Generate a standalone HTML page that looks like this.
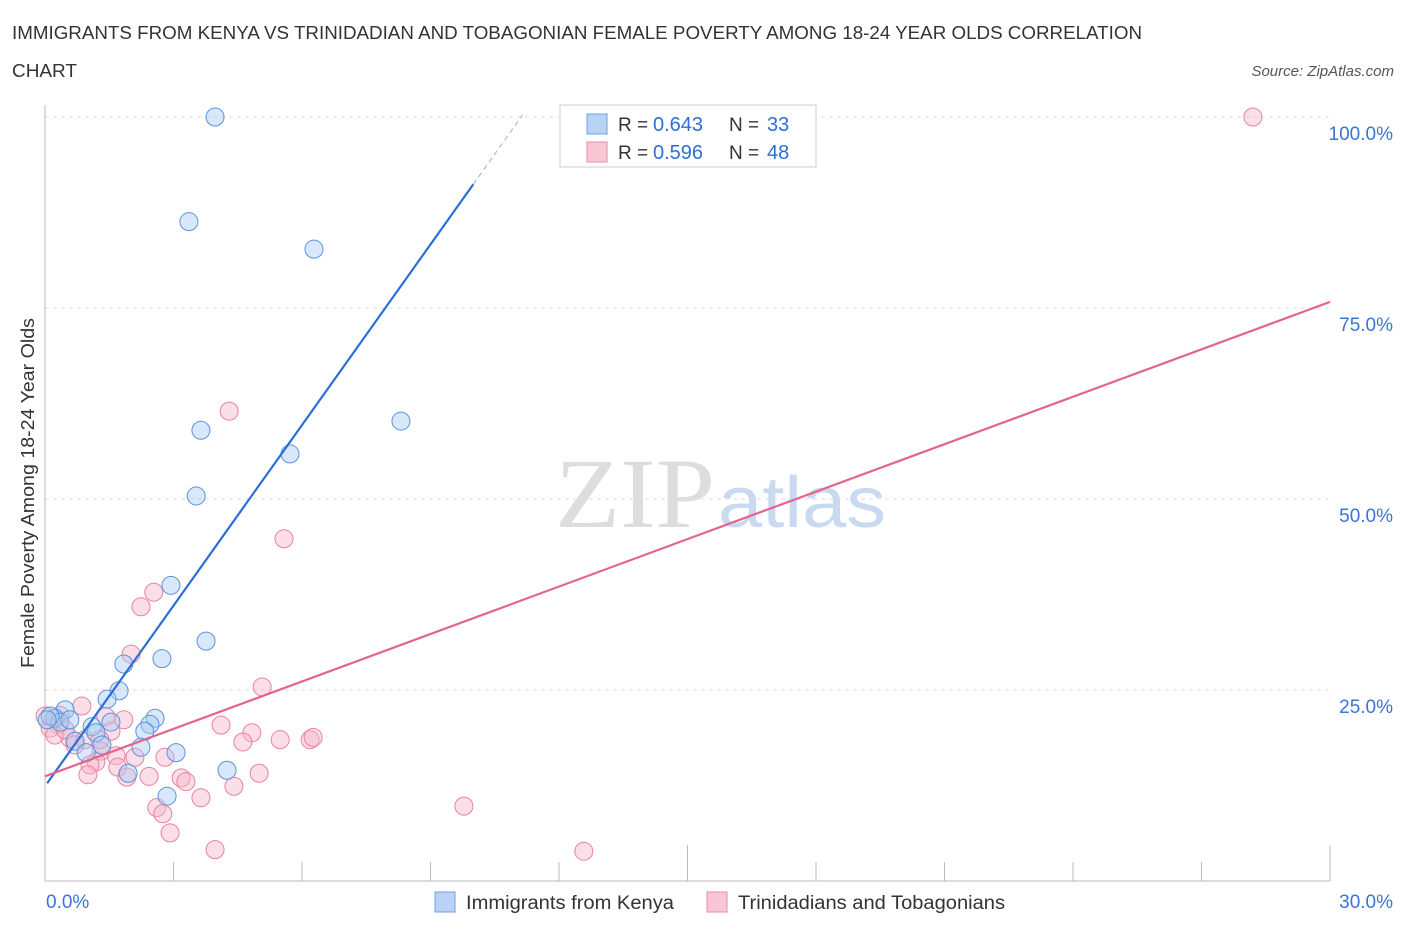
<!DOCTYPE html>
<html><head><meta charset="utf-8"><style>
body{margin:0;background:#fff;font-family:"Liberation Sans",sans-serif;}
#wrap{position:relative;width:1406px;height:930px;overflow:hidden}
</style></head><body>
<div id="wrap">
<svg id="svg" width="1406" height="930" xmlns="http://www.w3.org/2000/svg">
<text x="12" y="39" font-size="18" fill="#333" textLength="1130" lengthAdjust="spacingAndGlyphs">IMMIGRANTS FROM KENYA VS TRINIDADIAN AND TOBAGONIAN FEMALE POVERTY AMONG 18-24 YEAR OLDS CORRELATION</text>
<text x="12" y="77" font-size="18" fill="#333" textLength="65" lengthAdjust="spacingAndGlyphs">CHART</text>
<text x="1394" y="76" font-size="15" fill="#555" font-style="italic" text-anchor="end">Source: ZipAtlas.com</text>
<text x="555" y="527" font-size="100" fill="#ddd" font-family="Liberation Serif" textLength="160" lengthAdjust="spacingAndGlyphs">ZIP</text>
<text x="718" y="527" font-size="72" fill="#c9daf0" textLength="168" lengthAdjust="spacingAndGlyphs">atlas</text>
<text transform="translate(34,493) rotate(-90)" font-size="18" fill="#333" text-anchor="middle" textLength="350" lengthAdjust="spacingAndGlyphs">Female Poverty Among 18-24 Year Olds</text>
<g id="grid"></g><g id="axes"></g><g id="pts"></g><g id="lines"></g>
<g>
<rect x="560" y="105" width="256" height="62" fill="#fff" stroke="#ccc"/>
<rect x="587" y="114" width="20" height="20" fill="#b9d3f5" stroke="#6fa0e0"/>
<rect x="587" y="142" width="20" height="20" fill="#f9c6d5" stroke="#ea8aab"/>
<text x="618" y="131" font-size="19" fill="#333">R =</text>
<text x="653" y="131" font-size="20" fill="#2e6fd6">0.643</text>
<text x="729" y="131" font-size="19" fill="#333">N =</text>
<text x="767" y="131" font-size="20" fill="#2e6fd6">33</text>
<text x="618" y="159" font-size="19" fill="#333">R =</text>
<text x="653" y="159" font-size="20" fill="#2e6fd6">0.596</text>
<text x="729" y="159" font-size="19" fill="#333">N =</text>
<text x="767" y="159" font-size="20" fill="#2e6fd6">48</text>
</g>
<g>
<rect x="435" y="892" width="20" height="20" fill="#b9d3f5" stroke="#6fa0e0"/>
<text x="466" y="909" font-size="19" fill="#333" textLength="208" lengthAdjust="spacingAndGlyphs">Immigrants from Kenya</text>
<rect x="707" y="892" width="20" height="20" fill="#f9c6d5" stroke="#ea8aab"/>
<text x="738" y="909" font-size="19" fill="#333" textLength="267" lengthAdjust="spacingAndGlyphs">Trinidadians and Tobagonians</text>
</g>
</svg>
</div>
<script>
const kenyaX=[3.97,3.36,6.28,8.31,3.64,5.72,3.53,2.94,3.76,2.73,1.84,1.73,1.45,1.54,2.57,2.45,2.33,1.10,1.19,0.47,0.23,0.35,0.12,0.70,1.33,0.96,2.24,3.06,1.94,4.25,2.85,0.05,0.58];
const kenyaY=[100,86.3,82.7,60.2,59.0,55.9,50.4,38.7,31.4,29.1,28.4,24.9,23.8,20.8,21.3,20.5,19.6,20.2,19.4,22.4,21.3,20.8,21.6,18.3,17.8,16.8,17.5,16.8,14.1,14.5,11.1,21.1,21.1];
const trinX=[28.2,4.30,5.58,2.24,2.54,2.01,5.07,0.86,1.42,1.84,1.54,4.11,4.83,5.49,6.19,6.26,4.62,0.58,0.30,0.12,0.0,0.70,1.31,1.66,2.10,2.80,1.19,1.05,1.00,1.70,1.91,2.43,3.18,3.29,5.00,4.41,3.64,2.61,2.75,2.92,3.97,9.78,12.58,0.35,0.93,1.28,0.23,0.47];
const trinY=[100,61.5,44.8,35.9,37.8,29.7,25.4,22.9,21.5,21.1,19.6,20.4,19.4,18.5,18.5,18.8,18.2,18.7,20.5,20.0,21.6,17.8,17.0,16.4,16.2,16.2,15.6,15.2,13.9,14.9,13.6,13.7,13.5,13.0,14.1,12.4,10.9,9.6,8.8,6.3,4.1,9.8,3.9,21.7,18.5,18.5,19.1,19.8];
const kenyaTrend=[12.4,7.88];
const trinTrend=[13.7,2.07];
const yTicks=[25,50,75,100];
const xTickLabels=["0.0%","30.0%"];
const NS="http://www.w3.org/2000/svg";
const sx=v=>45+v/30*1285, sy=v=>881-v/100*764;
function mk(p,t,a){const e=document.createElementNS(NS,t);for(const k in a)e.setAttribute(k,a[k]);document.getElementById(p).appendChild(e);return e;}
yTicks.forEach(t=>{
  const l=mk('grid','line',{x1:45,x2:1330,y1:sy(t),y2:sy(t),stroke:'#ddd','stroke-dasharray':'4,4'});
  
  
  const tx=mk('grid','text',{x:1393,y:sy(t)+23,'font-size':19,fill:'#3a74d4','text-anchor':'end'});
  tx.textContent=t.toFixed(1)+'%';
  
  
});
let a=mk('axes','line',{x1:45,x2:45,y1:105,y2:881,stroke:'#bbb'});


a=mk('axes','line',{x1:45,x2:1330,y1:881,y2:881,stroke:'#bbb'});


for(let i=1;i<=10;i++){
  const v=i*3;const big=(i==5||i==10);
  const t=mk('axes','line',{x1:sx(v),x2:sx(v),y1:big?845:862,y2:881,stroke:'#bbb'});
  
  
}
[[0,"start",46],[30,"end",1393]].forEach((d,i)=>{
  const t=mk('axes','text',{x:d[2],y:908,'font-size':19,fill:'#3a74d4','text-anchor':d[1]});
  t.textContent=xTickLabels[i];
  
  
});
function pts(X,Y,fill,stroke,name){
  X.forEach((x,i)=>{
    const c=mk('pts','circle',{cx:sx(x),cy:sy(Y[i]),r:9,fill:fill,'fill-opacity':0.45,stroke:stroke,'stroke-width':1});
    
    
  });
}
pts(trinX,trinY,'#f7b6ca','#e9829f','trinidad-point');
pts(kenyaX,kenyaY,'#a9c9f2','#5b93de','kenya-point');
let l=mk('lines','line',{x1:sx(0.05),y1:sy(kenyaTrend[0]+kenyaTrend[1]*0.05),x2:sx(10),y2:sy(kenyaTrend[0]+kenyaTrend[1]*10),stroke:'#2a6fd6','stroke-width':2.2});


l=mk('lines','line',{x1:sx(10),y1:sy(kenyaTrend[0]+kenyaTrend[1]*10),x2:sx(11.15),y2:sy(kenyaTrend[0]+kenyaTrend[1]*11.15),stroke:'#8fb3e8','stroke-width':1,'stroke-dasharray':'5,4'});


l=mk('lines','line',{x1:sx(0),y1:sy(trinTrend[0]),x2:sx(30),y2:sy(trinTrend[0]+trinTrend[1]*30),stroke:'#e5648f','stroke-width':2.2});


</script>
</body></html>
